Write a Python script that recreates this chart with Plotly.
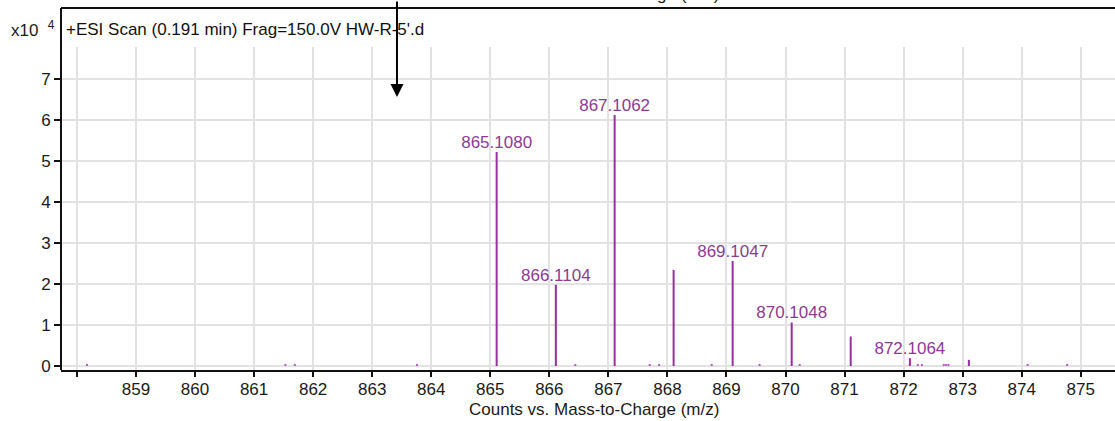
import plotly.graph_objects as go

# Centroided peaks (m/z, counts in units of 1e4)
peak_mz = [865.1080, 866.1104, 867.1062, 868.1050, 869.1047, 870.1048, 871.1040, 872.1064, 873.1050]
peak_counts = [5.22, 1.98, 6.12, 2.34, 2.56, 1.06, 0.72, 0.19, 0.15]

# Labelled peaks
label_mz = [865.1080, 866.1104, 867.1062, 869.1047, 870.1048, 872.1064]
label_counts = [5.22, 1.98, 6.12, 2.56, 1.06, 0.19]
label_text = ["865.1080", "866.1104", "867.1062", "869.1047", "870.1048", "872.1064"]

# Low-level noise peaks along the baseline
noise_mz = [858.17, 861.53, 861.69, 863.76, 866.44, 867.70, 867.86, 868.75, 869.56,
            870.24, 872.24, 872.31, 872.68, 872.72, 872.76, 874.10, 874.77]
noise_counts = [0.05, 0.05, 0.05, 0.05, 0.05, 0.05, 0.05, 0.05, 0.05,
                0.05, 0.05, 0.05, 0.05, 0.05, 0.05, 0.05, 0.05]

x_ticks = list(range(858, 876))
x_ticktext = [""] + [str(v) for v in range(859, 876)]
y_ticks = [0, 1, 2, 3, 4, 5, 6, 7]

PURPLE = "#982f9e"
TEXT_PURPLE = "#8d3a95"
FONT = "Liberation Sans"
FS = 17


def stick_xy(xs, ys):
    sx, sy = [], []
    for x, y in zip(xs, ys):
        sx += [x, x, None]
        sy += [0, y, None]
    return sx, sy


fig = go.Figure()

nx, ny = stick_xy(noise_mz, noise_counts)
fig.add_trace(go.Scatter(x=nx, y=ny, mode="lines",
                         line=dict(color="#b060c0", width=2),
                         hoverinfo="skip", showlegend=False))

px_, py_ = stick_xy(peak_mz, peak_counts)
fig.add_trace(go.Scatter(x=px_, y=py_, mode="lines",
                         line=dict(color=PURPLE, width=2),
                         showlegend=False))

fig.add_trace(go.Scatter(x=label_mz, y=label_counts, mode="text",
                         text=label_text, textposition="top center",
                         textfont=dict(family=FONT, size=FS, color=TEXT_PURPLE),
                         cliponaxis=False, showlegend=False))

W, H = 1115, 421
L, R, T, B = 61, 0, 47, 51
plot_h = H - T - B
plot_w = W - L - R


def py(pixel_y):
    return (H - B - pixel_y) / plot_h


def pxp(pixel_x):
    return (pixel_x - L) / plot_w


fig.update_layout(
    width=W, height=H,
    margin=dict(l=L, r=R, t=T, b=B),
    paper_bgcolor="white", plot_bgcolor="white",
    font=dict(family=FONT, size=FS, color="#1a1a1a"),
    xaxis=dict(
        range=[857.73, 875.58],
        tickvals=x_ticks, ticktext=x_ticktext,
        ticks="outside", ticklen=5, tickwidth=1.5, tickcolor="#111",
        ticklabelstandoff=-2,
        showgrid=True, gridcolor="#e2e2e2", gridwidth=1.5,
        showline=True, linecolor="#111", linewidth=2,
        zeroline=False,
        tickfont=dict(family=FONT, size=FS, color="#1a1a1a"),
    ),
    yaxis=dict(
        range=[-0.0976, 7.78],
        tickvals=y_ticks,
        ticks="outside", ticklen=6, tickwidth=1.5, tickcolor="#111",
        showgrid=True, gridcolor="#e2e2e2", gridwidth=1.5,
        showline=False, zeroline=False,
        tickfont=dict(family=FONT, size=FS, color="#1a1a1a"),
    ),
    shapes=[
        # left axis line running up to the header frame
        dict(type="line", xref="paper", yref="paper", x0=0, x1=0, y0=0, y1=py(8),
             line=dict(color="#111", width=2)),
        # top frame line
        dict(type="line", xref="paper", yref="paper", x0=0, x1=1, y0=py(8), y1=py(8),
             line=dict(color="#111", width=2)),
    ],
    annotations=[
        dict(text="+ESI Scan (0.191 min) Frag=150.0V HW-R-5'.d", xref="paper", yref="paper",
             x=pxp(64), y=py(29), xanchor="left", yanchor="middle", showarrow=False,
             font=dict(family=FONT, size=FS, color="#111")),
        dict(text="x10  <sup>4</sup>", xref="paper", yref="paper",
             x=pxp(57), y=py(29), xanchor="right", yanchor="middle", showarrow=False,
             font=dict(family=FONT, size=FS, color="#1a1a1a")),
        dict(text="Counts vs. Mass-to-Charge (m/z)", xref="paper", yref="paper",
             x=pxp(594), y=py(409), xanchor="center", yanchor="middle", showarrow=False,
             font=dict(family=FONT, size=FS, color="#1a1a1a")),
        dict(text="Counts vs. Mass-to-Charge (m/z)", xref="paper", yref="paper",
             x=pxp(594), y=py(-5), xanchor="center", yanchor="middle", showarrow=False,
             font=dict(family=FONT, size=FS, color="#1a1a1a")),
        dict(text="", x=863.42, y=6.56, xref="x", yref="y", ax=0, ay=-115,
             showarrow=True, arrowhead=2, arrowsize=1.3, arrowwidth=2, arrowcolor="#000"),
    ],
)

fig.write_html("out.html")
